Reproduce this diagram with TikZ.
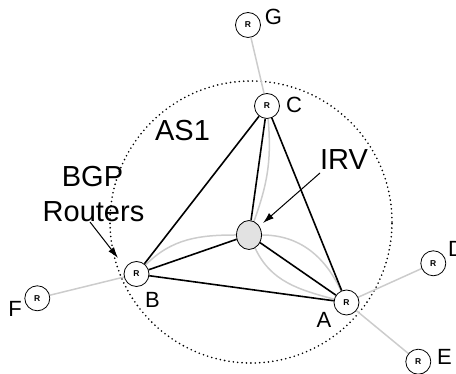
\documentclass[tikz,border=0pt]{standalone}
\usepackage{fontspec}
\setmainfont{Liberation Sans}
\usetikzlibrary{arrows.meta,shapes.geometric,backgrounds}
\definecolor{lgray}{HTML}{CCCCCC}
\definecolor{irvfill}{HTML}{E2E2E2}
\begin{document}
\begin{tikzpicture}[x=1pt,y=1pt,
 router/.style={circle,draw,line width=0.8pt,fill=white,minimum size=25pt,inner sep=0pt,font=\fontsize{8.5}{10}\selectfont\bfseries},
 irv/.style={ellipse,draw,line width=0.8pt,fill=irvfill,minimum width=25pt,minimum height=29pt,inner sep=0pt},
 lbl/.style={inner sep=0pt,anchor=base,font=\fontsize{22}{26}\selectfont},
 biglbl/.style={inner sep=0pt,anchor=base,font=\fontsize{29}{35}\selectfont},
 ibgp/.style={line width=1.6pt,black},
 ebgp/.style={line width=1.5pt,lgray},
 ptr/.style={line width=1pt,-{Latex[length=11pt,width=7pt]}},
 asline/.style={draw,line width=1.8pt,dash pattern=on 0pt off 4.4pt,line cap=round}]
\useasboundingbox (0,0) rectangle (456,374);
% routers
\node[router] (G) at (248,349) {R};
\node[router] (C) at (267,268) {R};
\node[router] (B) at (136.5,100) {R};
\node[router] (A) at (346.5,71.5) {R};
\node[router] (D) at (433.3,110.7) {R};
\node[router] (E) at (418.3,12.3) {R};
\node[router] (F) at (37.3,75.7) {R};
\node[irv] (IRV) at (249,139) {};
% labels
\node[lbl] (lG) at (273.5,349) {G};
\node[lbl] (lC) at (294,261) {C};
\node[lbl] (lB) at (152.5,66) {B};
\node[lbl] (lA) at (324,46) {A};
\node[lbl,anchor=base west] (lD) at (448,117) {D};
\node[lbl] (lE) at (444.5,9) {E};
\node[lbl] (lF) at (15,57.3) {F};
\node[biglbl] (lAS) at (182.5,233) {AS1};
\node[biglbl] (lIRV) at (344,204) {IRV};
\node[biglbl] (lBGP) at (92.5,187) {BGP};
\node[biglbl] (lRouters) at (93.5,152) {Routers};
% pointer arrows
\coordinate (irvfrom) at (320,201);
\coordinate (irvto) at (263,151);
\coordinate (rfrom) at (90,152);
\coordinate (rto) at (118,116);
\draw[ptr] (irvfrom) -- (irvto);
\draw[ptr] (rfrom) -- (rto);
\begin{pgfonlayer}{background}
\node[circle,asline,minimum size=282pt,inner sep=0pt] (as1) at (251,152) {};
% external sessions
\draw[ebgp] (G) -- (C);
\draw[ebgp] (A) -- (D);
\draw[ebgp] (A) -- (E);
\draw[ebgp] (B) -- (F);
% paths through IRV
\draw[ebgp] (C) to[out=-85,in=70] (IRV);
\draw[ebgp] (IRV) to[out=-65,in=165] (A);
\draw[ebgp] (B) to[out=45,in=180] (IRV);
\draw[ebgp] (IRV) to[out=0,in=115] (A);
% iBGP sessions
\draw[ibgp] (C) -- (B);
\draw[ibgp] (C) -- (A);
\draw[ibgp] (B) -- (A);
\draw[ibgp] (C) -- (IRV);
\draw[ibgp] (B) -- (IRV);
\draw[ibgp] (A) -- (IRV);
\end{pgfonlayer}
\end{tikzpicture}
\end{document}
